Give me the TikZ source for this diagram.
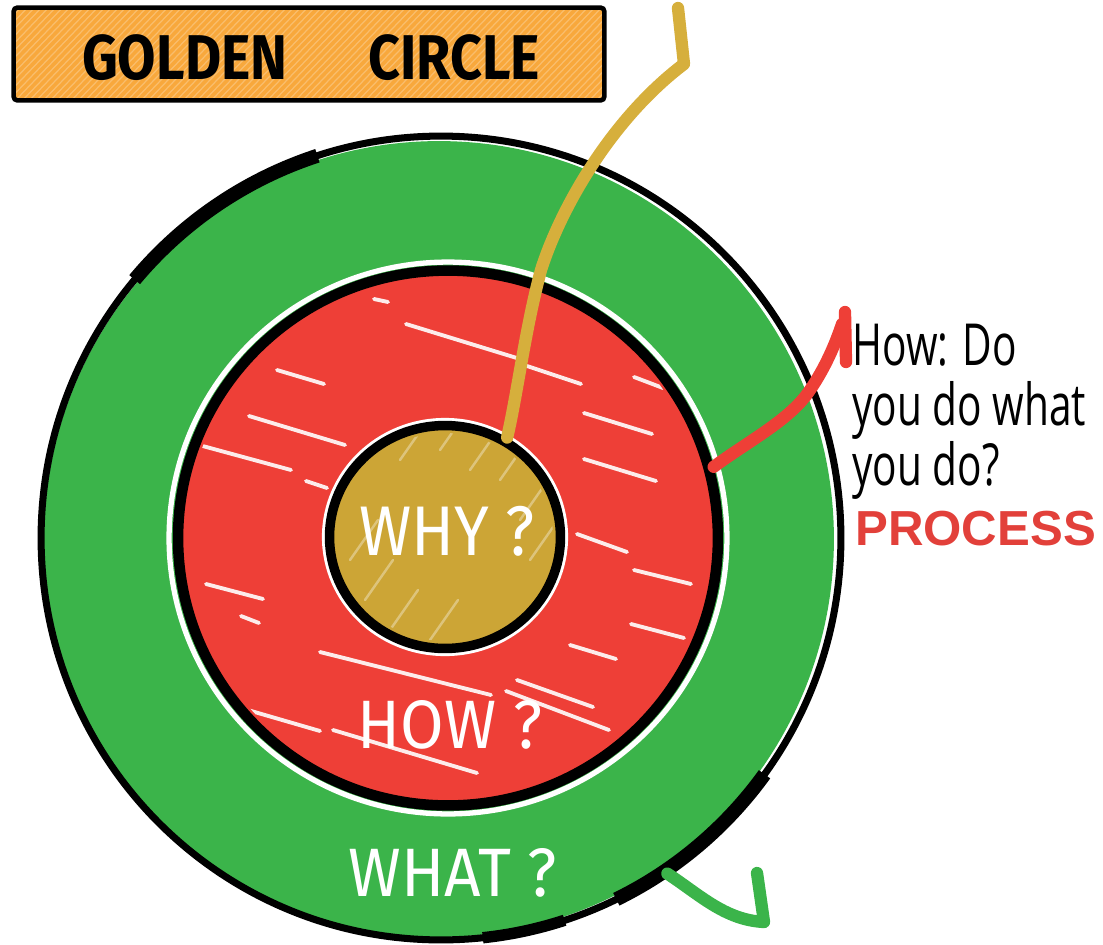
\documentclass[tikz,border=0pt]{standalone}
\usepackage{fontspec}
\setmainfont{Fira Sans}
\newfontfamily\handfont{Fira Sans}
\newfontfamily\notefont{Open Sans}
\newfontfamily\boldfont{Liberation Sans}
\usetikzlibrary{shapes.geometric,calc}
\definecolor{gcgreen}{HTML}{3BB44A}
\definecolor{gcred}{HTML}{EE3F37}
\definecolor{gcgold}{HTML}{CCA536}
\definecolor{gcline}{HTML}{D6AF3C}
\definecolor{gcorange}{HTML}{F8A83C}
\definecolor{gcprocess}{HTML}{E2403A}
\tikzset{
  ring/.style={ellipse, inner sep=0pt, draw=black},
  hatch/.style={white, line width=2.2pt, line cap=round, opacity=0.9},
  softhatch/.style={white, line width=1.4pt, line cap=round, opacity=0.35},
  handtext/.style={text=white, inner sep=0pt},
  connector/.style={line width=7pt, line cap=round, line join=round},
  notetext/.style={anchor=base west, inner sep=0pt, text=black},
}
\begin{document}
\begin{tikzpicture}[x=0.02cm,y=-0.02cm]
\useasboundingbox (0,0) rectangle (1103,944);
% ---- title box
\node[fill=gcorange, minimum width=11.8cm, minimum height=1.84cm, inner sep=0pt] (title) at (309,54) {};
\begin{scope}
  \clip (title.south west) rectangle (title.north east);
  \foreach \i in {-100,-93,...,620} \draw[white, opacity=0.25, line width=0.7pt] (\i,104) -- ++(96,-100);
\end{scope}
\draw[line width=2.6pt, rounded corners=2pt] (title.south west) rectangle (title.north east);
\node[inner sep=0pt] (titletext) at (311,58) {\scalebox{0.88}[1]{\handfont\bfseries\fontsize{36}{36}\selectfont GOLDEN\hspace{1.45em}CIRCLE}};
% ---- outer ring (WHAT)
\fill[gcgreen] (439,539) ellipse [x radius=7.9cm, y radius=7.96cm];
\node[ring, line width=4pt, minimum width=16cm, minimum height=16.08cm] (what) at (441,538) {};
\draw[line width=8pt] ($(what.center)+(108:8cm and 8.04cm)$) arc[start angle=108, end angle=140, x radius=8cm, y radius=8.04cm];
\draw[line width=8pt] ($(what.center)+(-64:8cm and 8.04cm)$) arc[start angle=-64, end angle=-36, x radius=8cm, y radius=8.04cm];
\draw[line width=6.5pt] ($(what.center)+(-84:8cm and 8.04cm)$) arc[start angle=-84, end angle=-72, x radius=8cm, y radius=8.04cm];
% ---- middle ring (HOW)
\draw[white, line width=3pt] (448,538) ellipse [x radius=5.58cm, y radius=5.52cm];
\node[ring, fill=gcred, line width=6pt, minimum width=10.8cm, minimum height=10.7cm] (how) at (448,538) {};
\begin{scope}
  \clip (448,538) ellipse [x radius=5.24cm, y radius=5.2cm];
  \foreach \a/\b/\c/\d in {374/299/388/302, 406/324/520/359, 277/370/324/384, 527/366/581/384,
      249/416/345/445, 199/445/291/470, 584/413/652/434, 306/481/327/488, 584/459/656/481,
      577/534/627/552, 634/570/691/584, 206/584/263/599, 241/616/259/623, 631/624/684/638,
      320/652/491/695, 506/691/609/730, 234/706/320/731, 333/730/477/773, 517/680/593/707,
      570/645/616/659, 634/377/663/388}
    \draw[hatch] (\a,\b) -- (\c,\d);
\end{scope}
% ---- inner circle (WHY)
\draw[white, line width=2.4pt] (445,537) ellipse [x radius=2.42cm, y radius=2.34cm];
\node[ring, fill=gcgold, line width=5.4pt, minimum width=4.62cm, minimum height=4.46cm] (why) at (445,537) {};
\begin{scope}
  \clip (445,537) ellipse [x radius=2.16cm, y radius=2.08cm];
  \foreach \a/\b in {350/560, 365/600, 390/630, 430/640, 470/470, 500/480, 520/520, 400/460, 440/450, 530/560}
    \draw[softhatch] (\a,\b) -- ++(28,-40);
\end{scope}
\node[handtext] (whytext) at (447,531) {\scalebox{0.9}[1]{\handfont\fontsize{40}{40}\selectfont WHY ?}};
% ---- connectors
\coordinate (yk) at (684,64);
\coordinate (ytop) at (678,8);
\draw[connector, gcline] (why.58) .. controls (518,390) and (525,330) .. (541,270)
      .. controls (560,210) and (610,120) .. (yk) -- (ytop);
\coordinate (rk) at (842,324);
\coordinate (rtop) at (845,312);
\coordinate (rbot) at (846,362);
\draw[connector, gcred] (how.15) .. controls (750,440) and (790,420) .. (810,390)
      .. controls (825,368) and (835,345) .. (rk);
\draw[connector, gcred] (rtop) -- (rbot);
\coordinate (gk) at (764,922);
\coordinate (gtop) at (757,873);
\draw[connector, gcgreen] (what.-56) .. controls (700,895) and (725,920) .. (gk) -- (gtop);
% ---- ring labels
\node[handtext] (howtext) at (450,725) {\scalebox{0.92}[1]{\handfont\fontsize{39}{39}\selectfont HOW ?}};
\node[handtext] (whattext) at (453,873) {\scalebox{0.93}[1]{\handfont\fontsize{39}{39}\selectfont WHAT ?}};
% ---- note
\node[notetext] (note1) at (852,365) {\scalebox{0.7}[1]{\notefont\fontsize{33}{33}\selectfont How: Do}};
\node[notetext] (note2) at (852,425) {\scalebox{0.7}[1]{\notefont\fontsize{33}{33}\selectfont you do what}};
\node[notetext] (note3) at (852,485) {\scalebox{0.7}[1]{\notefont\fontsize{33}{33}\selectfont you do?}};
\node[notetext, text=gcprocess] (process) at (855,545) {\boldfont\bfseries\fontsize{28}{28}\selectfont PROCESS};
\end{tikzpicture}
\end{document}
